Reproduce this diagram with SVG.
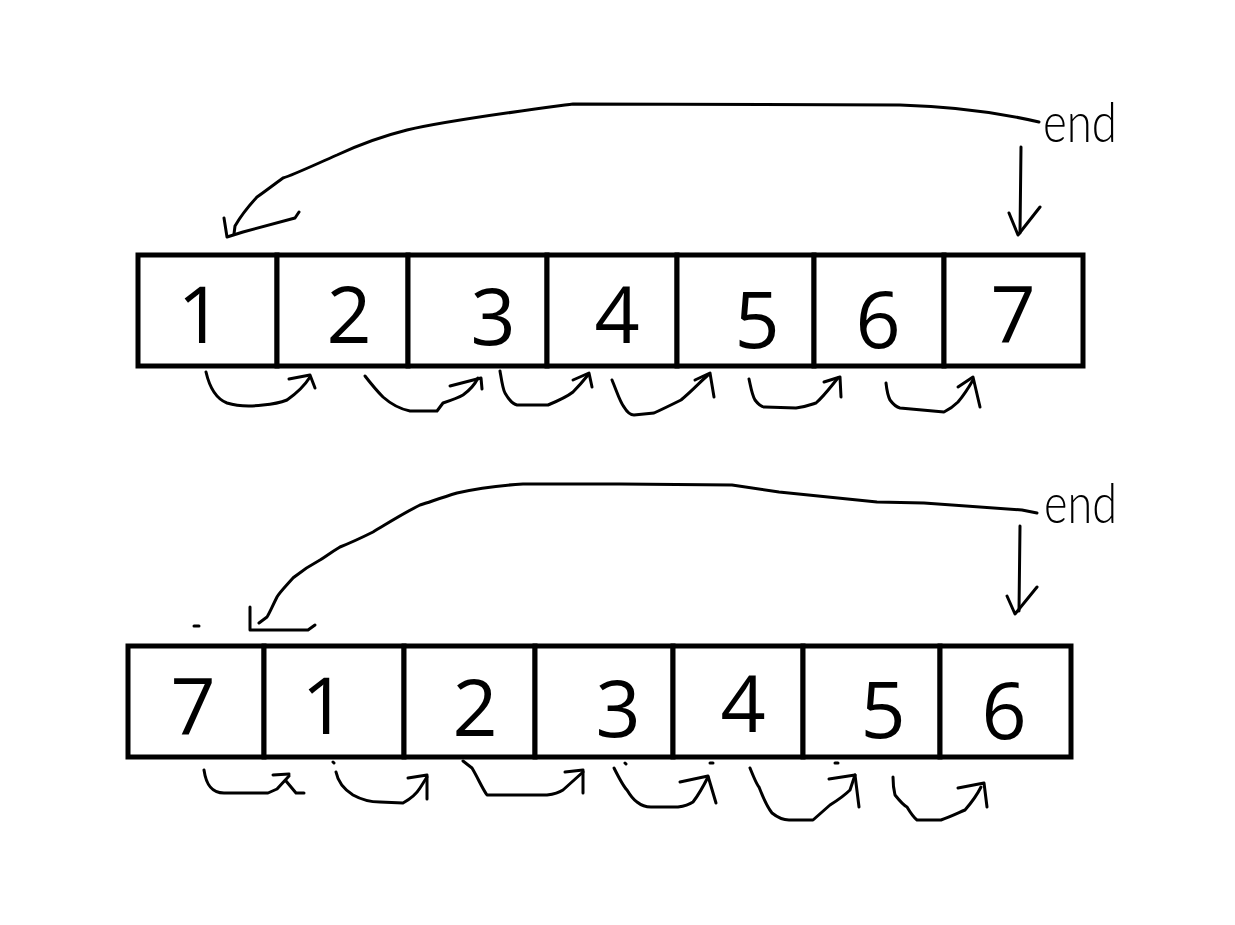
<svg xmlns="http://www.w3.org/2000/svg" width="1235" height="925" viewBox="0 0 1235 925">
<style>
.cell{fill:#fff;stroke:#000;stroke-width:5}
.num{font-family:"Open Sans","Noto Sans",sans-serif;font-size:79px;fill:#000;text-anchor:middle}
.lbl{font-family:Lato,"Noto Sans","Liberation Sans",sans-serif;font-weight:300;font-size:56px;fill:#000}
.ln{fill:none;stroke:#000;stroke-width:3;stroke-linecap:round;stroke-linejoin:round}
</style>
<rect width="1235" height="925" fill="#fff"/>
<g id="row1">
<g id="t1"><rect class="cell" x="138" y="255" width="139" height="111"/><text class="num" x="200" y="343">1</text></g>
<g id="t2"><rect class="cell" x="277" y="255" width="131" height="111"/><text class="num" x="349" y="343">2</text></g>
<g id="t3"><rect class="cell" x="408" y="255" width="139" height="111"/><text class="num" x="493" y="345">3</text></g>
<g id="t4"><rect class="cell" x="547" y="255" width="130" height="111"/><text class="num" x="617" y="343">4</text></g>
<g id="t5"><rect class="cell" x="677" y="255" width="137" height="111"/><text class="num" x="757" y="348">5</text></g>
<g id="t6"><rect class="cell" x="814" y="255" width="130" height="111"/><text class="num" x="878" y="348">6</text></g>
<g id="t7"><rect class="cell" x="944" y="255" width="139" height="111"/><text class="num" x="1013" y="342">7</text></g>
<g id="end1"><text class="lbl" x="1043" y="142" textLength="74" lengthAdjust="spacingAndGlyphs">end</text></g>
</g>
<g id="row2">
<g id="b7"><rect class="cell" x="128" y="646" width="136" height="111"/><text class="num" x="193" y="734">7</text></g>
<g id="b1"><rect class="cell" x="264" y="646" width="140" height="111"/><text class="num" x="324" y="734">1</text></g>
<g id="b2"><rect class="cell" x="404" y="646" width="131" height="111"/><text class="num" x="475" y="736">2</text></g>
<g id="b3"><rect class="cell" x="535" y="646" width="138" height="111"/><text class="num" x="618" y="737">3</text></g>
<g id="b4"><rect class="cell" x="673" y="646" width="130" height="111"/><text class="num" x="743" y="732">4</text></g>
<g id="b5"><rect class="cell" x="803" y="646" width="137" height="111"/><text class="num" x="883" y="738">5</text></g>
<g id="b6"><rect class="cell" x="940" y="646" width="131" height="111"/><text class="num" x="1004" y="739">6</text></g>
<g id="end2"><text class="lbl" x="1044" y="523" textLength="73" lengthAdjust="spacingAndGlyphs">end</text></g>
</g>
<g id="connectors">
<path class="ln" d="M1039,122 Q975,107 900,105 L573,104 C520,111 450,120 407,130 C375,138 352,148 337,155 C312,166 293,175 283,178 C272,186 263,193 257,197 C246,209 239,219 235,226 L234,234"/>
<path class="ln" d="M224,218 L227,237 L243,232 L295,218 L299,212"/>
<path class="ln" d="M1021,147 L1020,233"/>
<path class="ln" d="M1009,213 L1018,235 L1040,207"/>
<path class="ln" d="M206,372 C209,385 214,398 227,403 C240,407 255,406 263,405 C275,404 282,402 287,400 C297,393 305,385 310,377"/>
<path class="ln" d="M289,379 L310,375 L315,388"/>
<path class="ln" d="M365,376 C372,385 378,392 383,397 C392,405 400,409 410,411 L437,411 L443,403 C452,400 458,398 463,395 C470,390 475,384 478,378"/>
<path class="ln" d="M450,386 L481,378 L482,389"/>
<path class="ln" d="M500,371 C502,383 503,390 505,393 C509,400 512,404 517,405 L548,405 C560,400 568,396 573,392 C580,385 584,380 588,375"/>
<path class="ln" d="M573,380 L589,373 L592,387"/>
<path class="ln" d="M612,380 C617,392 620,402 624,407 C627,412 630,415 634,415 L654,413 C665,408 673,404 681,400 C693,390 700,382 708,375"/>
<path class="ln" d="M695,380 L710,373 L714,397"/>
<path class="ln" d="M749,379 C751,388 752,395 755,400 C758,404 761,407 765,407 L796,408 C805,407 810,405 816,403 C825,395 832,385 838,378"/>
<path class="ln" d="M824,382 L840,377 L841,397"/>
<path class="ln" d="M886,383 C887,392 888,396 890,400 C893,404 896,407 900,408 L944,412 C950,409 955,405 958,402 C964,395 969,387 973,380"/>
<path class="ln" d="M958,387 L973,377 L980,407"/>
<path class="ln" d="M1037,513 L1022,510 L924,503 L877,502 L779,492 L732,485 L620,484 L523,484 C490,486 470,490 457,493 C440,498 430,502 420,505 C400,515 385,525 373,532 C355,541 345,545 340,547 C330,553 325,557 320,560 C305,568 298,574 293,578 C285,587 280,592 277,597 C272,607 269,614 267,617 L259,623"/>
<path class="ln" d="M250,607 L250,630 L308,630 L315,625"/>
<path class="ln" d="M1020,526 L1019,611"/>
<path class="ln" d="M1007,596 L1015,614 L1037,587"/>
<path class="ln" d="M204,770 C206,784 211,793 224,793 L268,793 L277,789 L289,776"/>
<path class="ln" d="M273,775 L289,774"/>
<path class="ln" d="M286,781 L296,793 L304,793"/>
<path class="ln" d="M336,772 C338,782 345,790 353,795 C362,800 372,802 380,802 L403,803 C412,798 417,793 420,788 L427,777"/>
<path class="ln" d="M408,778 L427,775 L427,799"/>
<path class="ln" d="M463,761 L472,768 C478,778 482,788 487,795 L547,795 C555,794 560,792 563,790 L583,772"/>
<path class="ln" d="M565,772 L583,770 L583,793"/>
<path class="ln" d="M614,768 C619,778 624,787 627,790 C630,795 634,800 637,802 C642,806 646,807 651,807 L678,807 C685,806 690,804 693,802 C700,793 704,785 708,777"/>
<path class="ln" d="M680,782 L708,776 L716,803"/>
<path class="ln" d="M750,768 C754,778 757,785 759,787 C764,800 768,808 772,813 C777,817 782,820 789,820 L813,820 L830,805 C838,800 845,795 850,790 L855,775"/>
<path class="ln" d="M829,779 L855,775 L859,807"/>
<path class="ln" d="M893,777 C893,786 894,791 895,795 C899,800 903,805 907,807 C910,812 913,817 917,820 L941,820 C950,817 958,813 965,810 C972,802 977,795 981,787"/>
<path class="ln" d="M958,788 L984,783 L987,807"/>
<path class="ln" d="M194,626 L199,626 M333,762 L334,763 M625,763 L626,764 M710,763 L713,763 M835,763 L838,763" stroke-width="2"/>
</g>
</svg>
